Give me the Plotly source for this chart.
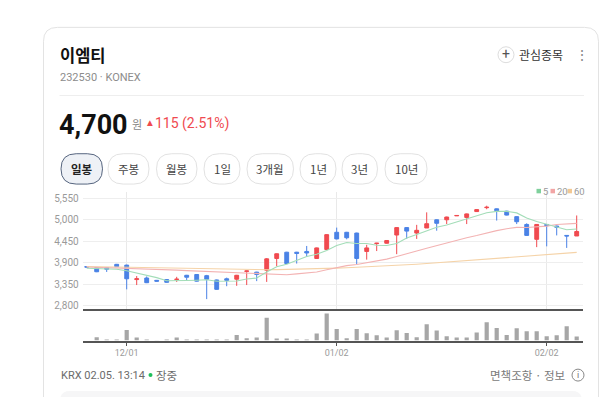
import plotly.graph_objects as go

W, H = 600, 397

# ---------------- data ----------------
dates = [
    "2025-11-25", "2025-11-26", "2025-11-27", "2025-11-28",
    "2025-12-01", "2025-12-02", "2025-12-03", "2025-12-04", "2025-12-05",
    "2025-12-08", "2025-12-09", "2025-12-10", "2025-12-11", "2025-12-12",
    "2025-12-15", "2025-12-16", "2025-12-17", "2025-12-18", "2025-12-19",
    "2025-12-22", "2025-12-23", "2025-12-24", "2025-12-26", "2025-12-29", "2025-12-30",
    "2026-01-02", "2026-01-05", "2026-01-06", "2026-01-07", "2026-01-08", "2026-01-09",
    "2026-01-12", "2026-01-13", "2026-01-14", "2026-01-15", "2026-01-16",
    "2026-01-19", "2026-01-20", "2026-01-21", "2026-01-22", "2026-01-23",
    "2026-01-26", "2026-01-27", "2026-01-28", "2026-01-29", "2026-01-30",
    "2026-02-02", "2026-02-03", "2026-02-04", "2026-02-05",
]
opens = [3800, 3775, 3775, 3860, 3840, 3470, 3510, 3450, 3470, 3470,
         3580, 3600, 3570, 3460, 3490, 3480, 3680, 3660, 3710, 4010,
         4170, 4170, 4190, 4010, 4240, 4680, 4680, 4660, 4190, 4390,
         4400, 4610, 4800, 4660, 4790, 5000, 5000, 5100, 5060, 5210,
         5310, 5280, 5220, 5080, 4880, 4500, 4880, 4840, 4600, 4585]
highs = [3800, 3780, 3780, 3870, 3850, 3560, 3550, 3460, 3480, 3540,
         3590, 3610, 3590, 3470, 3520, 3590, 3700, 3670, 4020, 4140,
         4180, 4180, 4330, 4290, 4630, 4800, 4690, 4670, 4360, 4410,
         4480, 4810, 4810, 4870, 5190, 5010, 5080, 5110, 5160, 5270,
         5360, 5290, 5230, 5090, 4910, 4890, 4890, 4850, 4600, 5110]
lows = [3790, 3660, 3665, 3800, 3220, 3330, 3380, 3420, 3390, 3410,
        3450, 3420, 2970, 3210, 3300, 3310, 3330, 3430, 3410, 3810,
        3870, 3880, 4050, 4000, 4230, 4500, 4500, 3860, 3980, 4200,
        4390, 4120, 4510, 4510, 4790, 4720, 4890, 5100, 4890, 5200,
        5270, 4980, 5110, 4890, 4590, 4300, 4320, 4600, 4280, 4585]
closes = [3790, 3670, 3735, 3800, 3490, 3490, 3390, 3430, 3400, 3480,
          3530, 3430, 3480, 3220, 3450, 3580, 3690, 3600, 4000, 4130,
          3880, 4140, 4150, 4280, 4620, 4510, 4540, 4010, 4280, 4400,
          4470, 4800, 4710, 4730, 4900, 4910, 5070, 5110, 5150, 5260,
          5320, 5230, 5120, 4950, 4600, 4880, 4850, 4810, 4585, 4700]
ma5 = [3760, 3750, 3740, 3735, 3697, 3637, 3581, 3520, 3440, 3438,
       3446, 3454, 3464, 3428, 3422, 3432, 3484, 3508, 3664, 3800,
       3860, 3950, 4060, 4116, 4214, 4340, 4420, 4392, 4392, 4348,
       4340, 4392, 4532, 4622, 4722, 4810, 4864, 4944, 5028, 5100,
       5182, 5214, 5216, 5176, 5044, 4956, 4880, 4818, 4745, 4765]
ma20 = [3790, 3783, 3776, 3769, 3761, 3752, 3743, 3733, 3722, 3711,
        3700, 3689, 3677, 3665, 3652, 3640, 3628, 3614, 3600, 3589,
        3594, 3617, 3638, 3662, 3719, 3770, 3827, 3856, 3900, 3946,
        3993, 4062, 4123, 4199, 4271, 4338, 4407, 4482, 4540, 4596,
        4668, 4723, 4771, 4805, 4804, 4822, 4838, 4878, 4893, 4908]
ma60 = [3805, 3800, 3795, 3790, 3784, 3778, 3772, 3766, 3760, 3754,
        3748, 3742, 3736, 3731, 3727, 3724, 3722, 3721, 3722, 3724,
        3728, 3733, 3739, 3746, 3754, 3763, 3773, 3783, 3794, 3805,
        3816, 3830, 3845, 3862, 3880, 3898, 3916, 3934, 3952, 3970,
        3988, 4006, 4024, 4042, 4060, 4080, 4100, 4120, 4140, 4165]
volumes = [0, 1000, 300, 300, 3200, 900, 300, 100, 300, 900,
           300, 300, 300, 300, 300, 1700, 700, 900, 6900, 600,
           600, 300, 300, 2100, 8200, 3500, 700, 3500, 2200, 1600,
           900, 3100, 2300, 1000, 4900, 3000, 1300, 900, 900, 2400,
           5500, 3800, 1700, 3700, 2800, 2800, 1300, 1600, 4300, 1200]
price_ticks = [2800, 3350, 3900, 4450, 5000, 5550]
date_tick_vals = ["2025-12-01", "2026-01-02", "2026-02-02"]
date_tick_text = ["12/01", "01/02", "02/02"]
periods = ["일봉", "주봉", "월봉", "1일", "3개월", "1년", "3년", "10년"]
ma_names = ["5", "20", "60"]

RED = "#f04a4f"
BLUE = "#4a82e6"
GREEN_MA = "#a3ddb8"
PINK_MA = "#f3b3b3"
ORANGE_MA = "#f5d3a8"
KR = "Noto Sans CJK KR"
NUM = "Roboto"


def fx(x):
    return x / W


def fy(y):
    return 1 - y / H


def pill(x0, y0, x1, y1, r):
    pts = [
        ("M", (x0 + r, y0)), ("L", (x1 - r, y0)), ("Q", (x1, y0), (x1, y0 + r)),
        ("L", (x1, y1 - r)), ("Q", (x1, y1), (x1 - r, y1)), ("L", (x0 + r, y1)),
        ("Q", (x0, y1), (x0, y1 - r)), ("L", (x0, y0 + r)), ("Q", (x0, y0), (x0 + r, y0)),
    ]
    s = ""
    for p in pts:
        s += p[0] + " " + " ".join(f"{fx(a):.5f},{fy(b):.5f}" for a, b in p[1:]) + " "
    return s + "Z"


fig = go.Figure()

# moving averages
for vals, col in [(ma60, ORANGE_MA), (ma20, PINK_MA), (ma5, GREEN_MA)]:
    fig.add_trace(go.Scatter(x=dates, y=vals, mode="lines", line=dict(color=col, width=1.1),
                             hoverinfo="skip", showlegend=False, xaxis="x", yaxis="y"))

fig.add_trace(go.Candlestick(
    x=dates, open=opens, high=highs, low=lows, close=closes,
    increasing=dict(line=dict(color=RED, width=1), fillcolor=RED),
    decreasing=dict(line=dict(color=BLUE, width=1), fillcolor=BLUE),
    whiskerwidth=0, hoverinfo="skip", showlegend=False, xaxis="x", yaxis="y"))

fig.add_trace(go.Bar(x=dates, y=volumes, marker=dict(color="#a6a6a6", line=dict(width=0)),
                     width=0.42, hoverinfo="skip", showlegend=False, xaxis="x2", yaxis="y2"))

xdom = [fx(82.7), fx(583.3)]
xr = [-0.4, 49.66]

shapes = []
annotations = []

# card
shapes.append(dict(type="path", path=pill(43.5, 27.5, 598.5, 440, 14), xref="paper", yref="paper",
                   line=dict(color="#e3e3e3", width=1), fillcolor="white", layer="below"))
shapes.append(dict(type="path", path=pill(60, 393, 582, 430, 10), xref="paper", yref="paper",
                   line=dict(width=0), fillcolor="#f6f6f7", layer="below"))
# separator
shapes.append(dict(type="line", x0=fx(59.5), x1=fx(584), y0=fy(96), y1=fy(96), xref="paper", yref="paper",
                   line=dict(color="#eeeeee", width=1)))


def ann(text, x, y, size, color, family=KR, xanchor="left", bold=False):
    if bold:
        text = "<b>" + text + "</b>"
    annotations.append(dict(text=text, x=fx(x), y=fy(y), xref="paper", yref="paper",
                            xanchor=xanchor, yanchor="middle", showarrow=False,
                            font=dict(size=size, color=color, family=family), borderpad=0))


# header
ann("이엠티", 58.5, 55, 16.5, "#111111", bold=True)
ann("232530 · KONEX", 58.5, 77.5, 11, "#8c8c8c", family=NUM)
shapes.append(dict(type="circle", x0=fx(498), x1=fx(514), y0=fy(47), y1=fy(63), xref="paper", yref="paper",
                   line=dict(color="#dddddd", width=1), fillcolor="white"))
ann("+", 506, 54.5, 14, "#555555", family=NUM, xanchor="center")
ann("관심종목", 518, 55, 12, "#333333")
ann("⋮", 582, 55, 14, "#888888", family=NUM, xanchor="center")

ann("4,700", 58, 125.5, 27, "#111111", family=NUM, bold=True)
ann("원", 131, 124.5, 11, "#888888")
ann("▲", 145.5, 123, 7.5, RED, family="DejaVu Sans")
ann("115 (2.51%)", 153.5, 124.5, 14, RED, family=NUM)

# period buttons
btns = [(61, 102.5), (108, 149), (156.5, 197), (204, 240), (247, 293.5), (300, 336), (342, 377.5), (385, 427)]
for i, (lab, (a, b)) in enumerate(zip(periods, btns)):
    sel = i == 0
    shapes.append(dict(type="path", path=pill(a, 154.5, b, 185, 15.2), xref="paper", yref="paper",
                       line=dict(color="#56657f" if sel else "#e2e2e2", width=1),
                       fillcolor="#eef1f6" if sel else "white"))
    ann(lab, (a + b) / 2, 170, 11.5, "#222222" if sel else "#444444", xanchor="center", bold=sel)

# MA legend
leg = [(536.5, "5", "#7fd09c", 542), (550.5, "20", "#f2a5a5", 556), (567.5, "60", "#f3c893", 573)]
for (sx, name, col, tx) in leg:
    shapes.append(dict(type="rect", x0=fx(sx), x1=fx(sx + 4.5), y0=fy(189.8), y1=fy(194.3),
                       xref="paper", yref="paper", line=dict(width=0), fillcolor=col))
    ann(name, tx, 192, 9.5, "#9a9a9a", family=NUM)

# footer
ann("KRX 02.05. 13:14", 60, 377, 11, "#6b6b6b", family=NUM)
shapes.append(dict(type="circle", x0=fx(148.5), x1=fx(152.5), y0=fy(375), y1=fy(379), xref="paper", yref="paper",
                   line=dict(width=0), fillcolor="#1fbf5b"))
ann("장중", 155, 377, 11.5, "#6b6b6b")
ann("면책조항 · 정보", 489, 377, 11.5, "#7a7a7a")
shapes.append(dict(type="circle", x0=fx(572), x1=fx(584), y0=fy(371), y1=fy(383), xref="paper", yref="paper",
                   line=dict(color="#888888", width=1), fillcolor="white"))
ann("i", 578, 377, 9, "#777777", family=NUM, xanchor="center")

fig.update_layout(
    width=W, height=H, autosize=False,
    margin=dict(l=0, r=0, t=0, b=0, pad=0),
    paper_bgcolor="white", plot_bgcolor="rgba(0,0,0,0)",
    showlegend=False, hovermode=False, boxgap=0.45,
    shapes=shapes, annotations=annotations,
    xaxis=dict(domain=xdom, anchor="y", type="category", range=xr, fixedrange=True,
               rangeslider=dict(visible=False), showgrid=True, gridcolor="#e9e9e9", gridwidth=1,
               tickvals=date_tick_vals, showticklabels=False, ticks="",
               showline=True, linecolor="#555555", linewidth=2, zeroline=False),
    yaxis=dict(domain=[fy(311), fy(193)], anchor="x", range=[2706, 5710], fixedrange=True,
               tickvals=price_ticks, tickformat=",", tickfont=dict(size=10, color="#9a9a9a", family=NUM),
               showgrid=True, gridcolor="#eeeeee", gridwidth=1, zeroline=False, showline=False,
               ticks="", ticklabelstandoff=3),
    xaxis2=dict(domain=xdom, anchor="y2", type="category", range=xr, fixedrange=True,
                tickvals=date_tick_vals, ticktext=date_tick_text, ticks="outside", ticklen=3,
                tickcolor="#555555", tickwidth=1, tickfont=dict(size=9, color="#9a9a9a", family=NUM),
                showline=True, linecolor="#555555", linewidth=2, showgrid=False, zeroline=False),
    yaxis2=dict(domain=[fy(342.3), fy(311)], anchor="x2", range=[0, 9390], fixedrange=True,
                showticklabels=False, showgrid=False, zeroline=False, showline=False, ticks=""),
)

fig.write_html("out.html", config={"displayModeBar": False, "staticPlot": True})
